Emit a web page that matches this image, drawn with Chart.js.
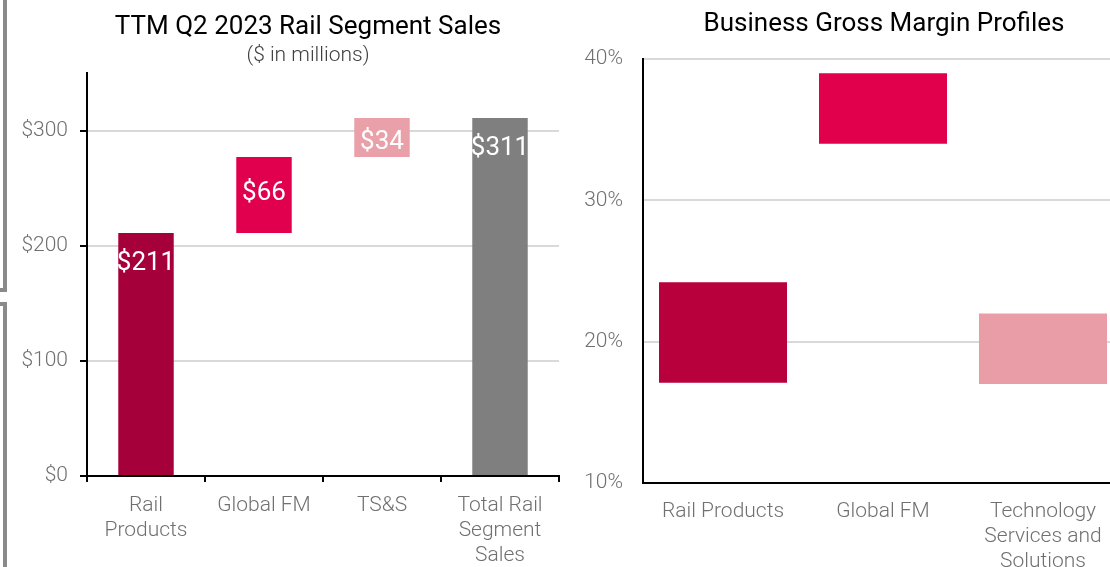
<!DOCTYPE html>
<html>
<head>
<meta charset="utf-8">
<script src="https://cdn.jsdelivr.net/npm/chart.js@4.4.0/dist/chart.umd.min.js"></script>
<style>
    body { margin: 0; width: 1110px; height: 567px; overflow: hidden; background: #fff; position: relative; }
    canvas { position: absolute; top: 0; }
    #chartSales { left: 0; }
    #chartMargins { left: 570px; }
    .bracket { position: absolute; border-color: #8a8a8a; border-style: solid; border-width: 0; }
    .bracket-top { left: -10px; top: -10px; width: 13px; height: 298px; border-right-width: 4px; border-bottom-width: 4px; }
    .bracket-bottom { left: -10px; top: 302px; width: 13px; height: 300px; border-right-width: 4px; border-top-width: 4px; }
</style>
</head>
<body>
<div class="bracket bracket-top"></div>
<div class="bracket bracket-bottom"></div>
<canvas id="chartSales" width="616" height="567"></canvas>
<canvas id="chartMargins" width="628" height="567"></canvas>
<script>
// left chart: TTM Q2 2023 rail segment sales ($M), floating bars
var salesLabels = [['Rail', 'Products'], 'Global FM', 'TS&S', ['Total Rail', 'Segment', 'Sales']];
var salesBase = [0, 211, 277, 0];
var salesTop = [211, 277, 311, 311];
var salesColors = ['#a5003a', '#e0004d', '#e9a0a8', '#7f7f7f'];
var salesTicks = [0, 100, 200, 300];

// right chart: gross margin ranges (%)
var marginLabels = ['Rail Products', 'Global FM', ['Technology', 'Services and', 'Solutions']];
var marginLow = [17.1, 34, 17];
var marginHigh = [24.2, 39, 22];
var marginColors = ['#b8003c', '#e0004b', '#e99ea7'];
var marginTicks = [10, 20, 30, 40];

var tickColor = '#707070';
var gridColor = '#d9d9d9';

function tickFont() {
    return { family: 'Roboto', size: 21, weight: '300', lineHeight: 1.2 };
}

// titles drawn centered over the plot area, shifted a bit like the slide
var headingPlugin = {
    id: 'headings',
    afterDraw: function (chart, args, opts) {
        var ctx = chart.ctx;
        var area = chart.chartArea;
        var cx = (area.left + area.right) / 2 + (opts.shift || 0);
        opts.lines.forEach(function (line) {
            ctx.save();
            ctx.font = line.font;
            ctx.fillStyle = line.color;
            ctx.textAlign = 'center';
            ctx.textBaseline = 'alphabetic';
            ctx.fillText(line.text, cx, line.baseline);
            ctx.restore();
        });
    }
};

var barLabelPlugin = {
    id: 'barLabels',
    afterDatasetsDraw: function (chart) {
        var ctx = chart.ctx;
        var meta = chart.getDatasetMeta(0);
        ctx.save();
        ctx.fillStyle = '#fff';
        ctx.font = '400 26px Roboto';
        ctx.textAlign = 'center';
        ctx.textBaseline = 'alphabetic';
        meta.data.forEach(function (bar, i) {
            var top = Math.min(bar.y, bar.base);
            var bottom = Math.max(bar.y, bar.base);
            var y;
            if (bottom - top > 100) {
                y = top + 37;
            } else {
                y = Math.max(top + 31, (top + bottom) / 2 + 5);
            }
            ctx.fillText('$' + (salesTop[i] - salesBase[i]), bar.x, y);
        });
        ctx.restore();
    }
};

var salesChart = new Chart(document.getElementById('chartSales').getContext('2d'), {
    type: 'bar',
    data: {
        labels: salesLabels,
        datasets: [{
            data: salesBase.map(function (b, i) { return [b, salesTop[i]]; }),
            backgroundColor: salesColors,
            categoryPercentage: 1,
            barPercentage: 0.47
        }]
    },
    options: {
        responsive: false,
        animation: false,
        layout: { padding: { left: 0, right: 57, top: 73, bottom: 0 } },
        plugins: {
            legend: { display: false },
            tooltip: { enabled: false },
            headings: {
                shift: -15,
                lines: [
                    { text: 'TTM Q2 2023 Rail Segment Sales', font: '400 26px Roboto', color: '#000', baseline: 34 },
                    { text: '($ in millions)', font: '300 21px Roboto', color: '#404040', baseline: 61 }
                ]
            }
        },
        scales: {
            x: {
                grid: { drawOnChartArea: false, color: '#000', lineWidth: 2, tickLength: 6, offset: true },
                border: { color: '#000', width: 2 },
                ticks: { color: tickColor, font: tickFont(), padding: 11, maxRotation: 0, autoSkip: false },
                afterFit: function (scale) { scale.height = 91; }
            },
            y: {
                min: 0,
                max: 350,
                afterBuildTicks: function (scale) {
                    scale.ticks = salesTicks.map(function (v) { return { value: v }; });
                },
                ticks: {
                    color: tickColor,
                    font: tickFont(),
                    padding: 12,
                    callback: function (v) { return '$' + v; }
                },
                grid: {
                    color: function (c) { return c.tick && c.tick.value === 0 ? 'rgba(0,0,0,0)' : gridColor; },
                    lineWidth: 2,
                    tickColor: '#000',
                    tickLength: 7
                },
                border: { color: '#000', width: 2 },
                afterFit: function (scale) { scale.width = 87; }
            }
        }
    },
    plugins: [barLabelPlugin, headingPlugin]
});

var marginChart = new Chart(document.getElementById('chartMargins').getContext('2d'), {
    type: 'bar',
    data: {
        labels: marginLabels,
        datasets: [{
            data: marginLow.map(function (lo, i) { return [lo, marginHigh[i]]; }),
            backgroundColor: marginColors,
            categoryPercentage: 1,
            barPercentage: 0.8
        }]
    },
    options: {
        responsive: false,
        animation: false,
        layout: { padding: { left: 0, right: 75, top: 59, bottom: 0 } },
        plugins: {
            legend: { display: false },
            tooltip: { enabled: false },
            headings: {
                shift: 1,
                lines: [
                    { text: 'Business Gross Margin Profiles', font: '400 26px Roboto', color: '#000', baseline: 31 }
                ]
            }
        },
        scales: {
            x: {
                grid: { drawOnChartArea: false, drawTicks: false },
                border: { color: '#000', width: 2 },
                ticks: { color: tickColor, font: tickFont(), padding: 16, maxRotation: 0, autoSkip: false },
                afterFit: function (scale) { scale.height = 84; }
            },
            y: {
                min: 10,
                max: 40,
                afterBuildTicks: function (scale) {
                    scale.ticks = marginTicks.map(function (v) { return { value: v }; });
                },
                ticks: {
                    color: tickColor,
                    font: tickFont(),
                    padding: 20,
                    callback: function (v) { return v + '%'; }
                },
                grid: {
                    color: function (c) { return c.tick && c.tick.value === 10 ? 'rgba(0,0,0,0)' : gridColor; },
                    lineWidth: 2,
                    drawTicks: false
                },
                border: { color: '#000', width: 2 },
                afterFit: function (scale) { scale.width = 73; }
            }
        }
    },
    plugins: [headingPlugin]
});
</script>
</body>
</html>
